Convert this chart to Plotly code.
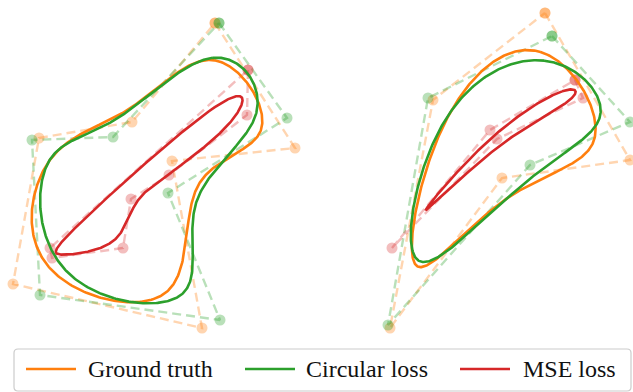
import numpy as np
import plotly.graph_objects as go

# ---- data: control points of closed cubic B-splines (pixel-like units) ----
# left example
gt_a_x = [215, 295, 172, 202, 13, 39, 132]
gt_a_y = [23, 148, 161, 328, 284, 138, 122]
circ_a_x = [219, 287, 168, 220, 40, 32, 113]
circ_a_y = [23, 118, 193, 320, 295, 140, 137]
mse_a_x = [248, 247, 169, 131, 123, 52, 50]
mse_a_y = [70, 115, 175, 199, 248, 258, 248]

# right example
gt_b_x = [545, 630, 502, 390, 433]
gt_b_y = [13, 160, 178, 328, 100]
circ_b_x = [552, 630, 530, 388, 428]
circ_b_y = [36, 122, 165, 325, 98]
mse_b_x = [575, 583, 497, 392, 490]
mse_b_y = [80, 98, 139, 248, 130]

series_names = ["Ground truth", "Circular loss", "MSE loss"]
colors = ["#ff7f0e", "#2ca02c", "#d62728"]
poly_rgba = ["rgba(255,127,14,0.33)", "rgba(44,160,44,0.33)", "rgba(214,39,40,0.30)"]

W, H = 633, 392


def closed_bspline(xs, ys, samples=80):
    P = np.column_stack([xs, ys]).astype(float)
    n = len(P)
    t = np.linspace(0, 1, samples, endpoint=False)
    b0 = (1 - t) ** 3 / 6
    b1 = (3 * t ** 3 - 6 * t ** 2 + 4) / 6
    b2 = (-3 * t ** 3 + 3 * t ** 2 + 3 * t + 1) / 6
    b3 = t ** 3 / 6
    pts = []
    for i in range(n):
        p0, p1, p2, p3 = P[(i - 1) % n], P[i], P[(i + 1) % n], P[(i + 2) % n]
        seg = np.outer(b0, p0) + np.outer(b1, p1) + np.outer(b2, p2) + np.outer(b3, p3)
        pts.append(seg)
    pts = np.vstack(pts)
    pts = np.vstack([pts, pts[:1]])
    return pts[:, 0], pts[:, 1]


panels = [
    [(gt_a_x, gt_a_y), (circ_a_x, circ_a_y), (mse_a_x, mse_a_y)],
    [(gt_b_x, gt_b_y), (circ_b_x, circ_b_y), (mse_b_x, mse_b_y)],
]

fig = go.Figure()

# control polygons
for panel in panels:
    for k, (xs, ys) in enumerate(panel):
        fig.add_trace(go.Scatter(
            x=list(xs) + [xs[0]], y=list(ys) + [ys[0]],
            mode="lines+markers",
            line=dict(color=poly_rgba[k], width=2.4, dash="9px,5px"),
            marker=dict(color=poly_rgba[k], size=11, line=dict(width=0)),
            showlegend=False, hoverinfo="skip",
        ))

# curves
for k in range(3):
    for panel in panels:
        xs, ys = panel[k]
        cx, cy = closed_bspline(xs, ys)
        fig.add_trace(go.Scatter(
            x=cx, y=cy, mode="lines",
            line=dict(color=colors[k], width=2.6),
            name=series_names[k], showlegend=False, hoverinfo="skip",
        ))

# manual legend (box, line samples, labels)
bx0, bx1, by0, by1, r = 14, 631, 349, 391, 4
path = (f"M{bx0+r},{by0} L{bx1-r},{by0} Q{bx1},{by0} {bx1},{by0+r} "
        f"L{bx1},{by1-r} Q{bx1},{by1} {bx1-r},{by1} L{bx0+r},{by1} "
        f"Q{bx0},{by1} {bx0},{by1-r} L{bx0},{by0+r} Q{bx0},{by0} {bx0+r},{by0} Z")
shapes = [dict(type="path", path=path, xref="x", yref="y",
               line=dict(color="#cccccc", width=1.2), fillcolor="white", layer="above")]
leg_line_x = [26, 245, 460]
leg_text_x = [86, 304, 521]
leg_y = 369
annotations = []
for k in range(3):
    shapes.append(dict(type="line", xref="x", yref="y",
                       x0=leg_line_x[k], x1=leg_line_x[k] + 50, y0=leg_y, y1=leg_y,
                       line=dict(color=colors[k], width=2.6), layer="above"))
    annotations.append(dict(x=leg_text_x[k], y=leg_y, xref="x", yref="y",
                            text=series_names[k], showarrow=False,
                            xanchor="left", yanchor="middle",
                            font=dict(family="Liberation Serif", size=24, color="#111111")))

fig.update_layout(
    width=W, height=H,
    margin=dict(l=0, r=0, t=0, b=0),
    paper_bgcolor="white", plot_bgcolor="white",
    xaxis=dict(range=[0, W], visible=False, fixedrange=True),
    yaxis=dict(range=[H, 0], visible=False, fixedrange=True),
    shapes=shapes, annotations=annotations,
    showlegend=False,
)

fig.write_html(
    "out.html",
    config={"displayModeBar": False},
    post_script="document.body.style.margin='0';document.body.style.overflow='hidden';",
)
